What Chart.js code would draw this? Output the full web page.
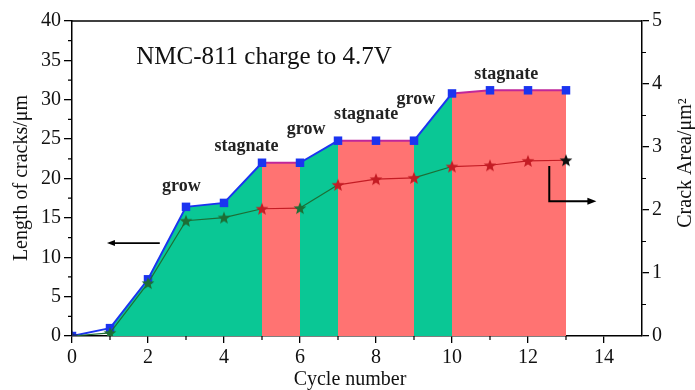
<!DOCTYPE html>
<html>
<head>
<meta charset="utf-8">
<script src="https://cdn.jsdelivr.net/npm/chart.js@4/dist/chart.umd.min.js"></script>
<style>
  html, body { margin: 0; padding: 0; background: #fff; }
  #wrap { width: 695px; height: 390px; }
</style>
</head>
<body>
<div id="wrap"><canvas id="c" width="695" height="390"></canvas></div>
<script>
// Crack growth of NMC-811 charged to 4.7 V
const cycles = [0, 1, 2, 3, 4, 5, 6, 7, 8, 9, 10, 11, 12, 13];
const crackLength = [0, 1.0, 7.2, 16.4, 16.9, 22.0, 22.0, 24.8, 24.8, 24.8, 30.8, 31.2, 31.2, 31.2];
const crackArea = [0, 0.05, 0.84, 1.83, 1.88, 2.02, 2.03, 2.40, 2.49, 2.51, 2.69, 2.71, 2.78, 2.79];
// stage of each interval between consecutive cycles
const stages = ['', 'grow', 'grow', 'grow', 'grow', 'stagnate', 'grow', 'stagnate', 'stagnate', 'grow', 'stagnate', 'stagnate', 'stagnate'];
const leftTicks = [0, 5, 10, 15, 20, 25, 30, 35, 40];
const rightTicks = [0, 1, 2, 3, 4, 5];
const xTicks = [0, 2, 4, 6, 8, 10, 12, 14];

const GREEN_FILL = '#0ac795';
const RED_FILL = '#ff7372';
const BLUE = '#1b34f0';
const MAGENTA = '#c0279a';
const STAR_GREEN = '#1d6e35';
const STAR_RED = '#c41c24';
const starColors = ['#1b2a6e', STAR_GREEN, STAR_GREEN, STAR_GREEN, STAR_GREEN, STAR_RED, STAR_GREEN,
  STAR_RED, STAR_RED, STAR_RED, STAR_RED, STAR_RED, STAR_RED, '#111111'];

function makeStar(color, size) {
  const cv = document.createElement('canvas');
  cv.width = size; cv.height = size;
  const g = cv.getContext('2d');
  const cx = size / 2, cy = size / 2 + 0.6, R = size / 2 - 0.3, r = R * 0.42;
  g.beginPath();
  for (let i = 0; i < 10; i++) {
    const ang = -Math.PI / 2 + i * Math.PI / 5;
    const rad = i % 2 === 0 ? R : r;
    const px = cx + rad * Math.cos(ang), py = cy + rad * Math.sin(ang);
    i === 0 ? g.moveTo(px, py) : g.lineTo(px, py);
  }
  g.closePath();
  g.fillStyle = color;
  g.fill();
  return cv;
}
const starCache = {};
function starFor(color) {
  if (!starCache[color]) starCache[color] = makeStar(color, 14);
  return starCache[color];
}

const stageFill = s => s === 'grow' ? GREEN_FILL : (s === 'stagnate' ? RED_FILL : 'rgba(0,0,0,0)');

const serif = '"Liberation Serif", "DejaVu Serif", serif';

// annotations, arrows, frame, minor ticks and axis titles
const decor = {
  id: 'decor',
  afterDraw(chart) {
    const {ctx, chartArea: a, scales} = chart;
    const x = scales.x, y = scales.y, y2 = scales.y2;
    ctx.save();
    // top frame line
    ctx.strokeStyle = '#000';
    ctx.lineWidth = 1.5;
    ctx.beginPath();
    ctx.moveTo(a.left, a.top);
    ctx.lineTo(a.right, a.top);
    ctx.stroke();
    // minor ticks
    ctx.lineWidth = 1.2;
    ctx.beginPath();
    for (let v = 1; v < 15; v += 2) {
      const px = x.getPixelForValue(v);
      ctx.moveTo(px, a.bottom); ctx.lineTo(px, a.bottom + 4);
    }
    for (let v = 2.5; v < 40; v += 5) {
      const py = y.getPixelForValue(v);
      ctx.moveTo(a.left, py); ctx.lineTo(a.left - 4, py);
    }
    for (let v = 0.5; v < 5; v += 1) {
      const py = y2.getPixelForValue(v);
      ctx.moveTo(a.right, py); ctx.lineTo(a.right + 4, py);
    }
    ctx.stroke();

    // stage labels
    ctx.fillStyle = '#222';
    ctx.font = 'bold 18px ' + serif;
    ctx.textAlign = 'center';
    ctx.textBaseline = 'middle';
    const notes = [
      ['grow', 2.88, 19.0], ['stagnate', 4.59, 24.1], ['grow', 6.16, 26.2],
      ['stagnate', 7.74, 28.1], ['grow', 9.05, 30.0], ['stagnate', 11.43, 33.2]
    ];
    notes.forEach(([t, vx, vy]) => ctx.fillText(t, x.getPixelForValue(vx), y.getPixelForValue(vy)));

    // heading
    ctx.fillStyle = '#111';
    ctx.font = '25px ' + serif;
    ctx.fillText('NMC-811 charge to 4.7V', 264, 57);

    // arrows pointing to the matching axis
    ctx.strokeStyle = '#000';
    ctx.fillStyle = '#000';
    ctx.lineWidth = 1.6;
    const ay = y.getPixelForValue(11.8);
    const ax1 = x.getPixelForValue(2.31), ax0 = x.getPixelForValue(0.92);
    ctx.beginPath(); ctx.moveTo(ax1, ay); ctx.lineTo(ax0 + 6, ay); ctx.stroke();
    ctx.beginPath(); ctx.moveTo(ax0, ay); ctx.lineTo(ax0 + 8, ay - 3); ctx.lineTo(ax0 + 8, ay + 3); ctx.closePath(); ctx.fill();

    const bx = x.getPixelForValue(12.56);
    const by0 = y.getPixelForValue(21.6), by1 = y.getPixelForValue(17.1);
    const bx1 = x.getPixelForValue(13.8);
    ctx.lineWidth = 2;
    ctx.beginPath(); ctx.moveTo(bx, by0); ctx.lineTo(bx, by1); ctx.lineTo(bx1 - 6, by1); ctx.stroke();
    ctx.beginPath(); ctx.moveTo(bx1, by1); ctx.lineTo(bx1 - 9, by1 - 3.5); ctx.lineTo(bx1 - 9, by1 + 3.5); ctx.closePath(); ctx.fill();

    // axis titles
    ctx.fillStyle = '#111';
    ctx.font = '20px ' + serif;
    ctx.fillText('Cycle number', 350, 380);
    ctx.save();
    ctx.translate(22, 178);
    ctx.rotate(-Math.PI / 2);
    ctx.fillText('Length of cracks/\u03bcm', 0, 0);
    ctx.restore();
    ctx.save();
    ctx.translate(686, 163);
    ctx.rotate(-Math.PI / 2);
    ctx.fillText('Crack Area/\u03bcm\u00b2', 0, 0);
    ctx.restore();
    ctx.restore();
  }
};

const tickFont = {family: serif, size: 20};

new Chart(document.getElementById('c'), {
  type: 'line',
  data: {
    datasets: [
      {
        label: 'Crack area',
        yAxisID: 'y2',
        data: cycles.map((c, i) => ({x: c, y: crackArea[i]})),
        borderWidth: 1.2,
        borderColor: STAR_RED,
        segment: {
          borderColor: ctx => stages[ctx.p0DataIndex] === 'stagnate' ? STAR_RED : STAR_GREEN
        },
        pointStyle: ctx => starFor(starColors[ctx.dataIndex]),
        pointRadius: 6,
        fill: false,
        tension: 0
      },
      {
        label: 'Crack length',
        yAxisID: 'y',
        data: cycles.map((c, i) => ({x: c, y: crackLength[i]})),
        borderWidth: 2,
        borderColor: BLUE,
        backgroundColor: GREEN_FILL,
        segment: {
          borderColor: ctx => stages[ctx.p0DataIndex] === 'stagnate' ? MAGENTA : BLUE,
          backgroundColor: ctx => stageFill(stages[ctx.p0DataIndex])
        },
        pointStyle: 'rect',
        pointRadius: 6,
        pointBackgroundColor: BLUE,
        pointBorderColor: BLUE,
        pointBorderWidth: 0,
        fill: 'origin',
        tension: 0
      }
    ]
  },
  options: {
    responsive: false,
    animation: false,
    devicePixelRatio: 1,
    layout: {padding: {top: 21, left: 0, right: 0, bottom: 0}},
    plugins: {
      legend: {display: false},
      tooltip: {enabled: false},
      filler: {drawTime: 'beforeDatasetsDraw'}
    },
    scales: {
      x: {
        type: 'linear',
        min: 0, max: 15,
        afterFit: s => { s.height = 54; },
        afterBuildTicks: s => { s.ticks = xTicks.map(v => ({value: v})); },
        ticks: {font: tickFont, color: '#111', padding: 3, maxRotation: 0, autoSkip: false},
        grid: {drawOnChartArea: false, drawTicks: true, tickLength: 7, color: '#000', lineWidth: 1.3},
        border: {display: true, color: '#000', width: 1.5}
      },
      y: {
        position: 'left',
        min: 0, max: 40,
        afterFit: s => { s.width = 72; },
        afterBuildTicks: s => { s.ticks = leftTicks.map(v => ({value: v})); },
        ticks: {font: tickFont, color: '#111', padding: 3, autoSkip: false},
        grid: {drawOnChartArea: false, drawTicks: true, tickLength: 8, color: '#000', lineWidth: 1.3},
        border: {display: true, color: '#000', width: 1.5}
      },
      y2: {
        position: 'right',
        min: 0, max: 5,
        afterFit: s => { s.width = 53; },
        afterBuildTicks: s => { s.ticks = rightTicks.map(v => ({value: v})); },
        ticks: {font: tickFont, color: '#111', padding: 3, autoSkip: false},
        grid: {drawOnChartArea: false, drawTicks: true, tickLength: 7, color: '#000', lineWidth: 1.3},
        border: {display: true, color: '#000', width: 1.5}
      }
    }
  },
  plugins: [decor]
});
</script>
</body>
</html>
